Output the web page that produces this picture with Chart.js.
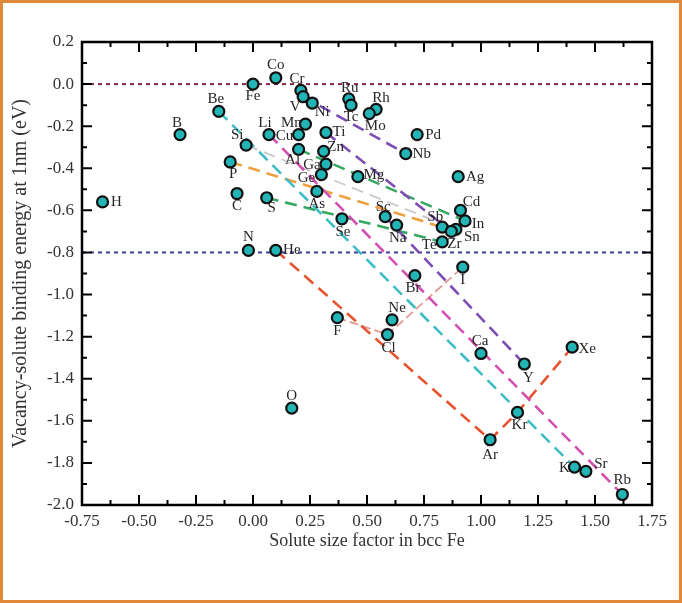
<!DOCTYPE html>
<html>
<head>
<meta charset="utf-8">
<script src="https://cdn.jsdelivr.net/npm/chart.js@4.4.0/dist/chart.umd.min.js"></script>
<style>
  html, body { margin: 0; padding: 0; background: #fff; }
  #wrap { position: relative; width: 682px; height: 603px; }
  #frame { position: absolute; left: 0; top: 0; width: 676px; height: 597px; border: 3px solid #e0893a; pointer-events: none; }
</style>
</head>
<body>
<div id="wrap">
  <canvas id="myChart" width="682" height="603"></canvas>
  <div id="frame"></div>
</div>
<script>
/* globals Chart:false */
(() => {
  'use strict'

  // solutes, size factor (x) and binding energy at 1nm (y)
  const elements = ['H', 'B', 'Be', 'Fe', 'Co', 'Si', 'P', 'C', 'S', 'N', 'He', 'Li', 'Mn', 'Cu', 'Al',
    'Cr', 'V', 'Ni', 'Ru', 'Tc', 'Rh', 'Mo', 'Pd', 'Nb', 'Ti', 'Zn', 'Ga', 'Ge', 'As', 'Mg', 'Ag',
    'Cd', 'In', 'Sb', 'Sn', 'Zr', 'Te', 'Se', 'Sc', 'Na', 'I', 'Br', 'Ne', 'F', 'Cl', 'Ca', 'O',
    'Xe', 'Y', 'Kr', 'Ar', 'K', 'Sr', 'Rb']
  const sizeFactor = [-0.66, -0.32, -0.15, 0.00, 0.10, -0.03, -0.10, -0.07, 0.06, -0.02, 0.10, 0.07, 0.23, 0.20, 0.20,
    0.21, 0.22, 0.26, 0.42, 0.43, 0.54, 0.51, 0.72, 0.67, 0.32, 0.31, 0.32, 0.30, 0.28, 0.46, 0.90,
    0.91, 0.93, 0.83, 0.89, 0.87, 0.83, 0.39, 0.58, 0.63, 0.92, 0.71, 0.61, 0.37, 0.59, 1.00, 0.17,
    1.40, 1.19, 1.16, 1.04, 1.41, 1.46, 1.62]
  const bindingEnergy = [-0.56, -0.24, -0.13, 0.00, 0.03, -0.29, -0.37, -0.52, -0.54, -0.79, -0.79, -0.24, -0.19, -0.24, -0.31,
    -0.03, -0.06, -0.09, -0.07, -0.10, -0.12, -0.14, -0.24, -0.33, -0.23, -0.32, -0.38, -0.43, -0.51, -0.44, -0.44,
    -0.60, -0.65, -0.68, -0.69, -0.70, -0.75, -0.64, -0.63, -0.67, -0.87, -0.91, -1.12, -1.11, -1.19, -1.28, -1.54,
    -1.25, -1.33, -1.56, -1.69, -1.82, -1.84, -1.95]

  // dashed trend lines, by element
  const trendLines = [
    ['Be', 'K'], ['Li', 'Rb'], ['Sc', 'Y'], ['Ti', 'Zr'], ['V', 'Nb'], ['P', 'Sb'],
    ['Si', 'Sn'], ['Al', 'In'], ['S', 'Te'], ['He', 'Ar', 'Kr', 'Xe'], ['F', 'Cl', 'I']
  ]
  const refLevels = [0.0, -0.8]
  const xRange = [-0.75, 1.75]
  const yRange = [-2.0, 0.2]

  // styles
  const lineColors = ['#3fbcc6', '#d34fb0', '#7d4cb4', '#7d4cb4', '#7d4cb4', '#f0a040',
    '#c9c9c9', '#35a862', '#35a862', '#e5532f', '#e39a94']
  const refColors = ['#8a2447', '#3f3f9e']
  const labelOffset = {
    H: [14, 0], B: [-3, -12], Be: [-3, -12], Fe: [0, 12], Co: [0, -13], Si: [-9, -10], P: [3, 12],
    C: [0, 13], S: [5, 10], N: [0, -13], He: [16, 0], Li: [-4, -12], Mn: [-14, -1], Cu: [-14, 1],
    Al: [-6, 11], Cr: [-4, -11], V: [-8, 10], Ni: [10, 9], Ru: [1, -11], Tc: [0, 12], Rh: [5, -11],
    Mo: [6, 13], Pd: [16, 0], Nb: [16, 1], Ti: [13, 0], Zn: [12, -4], Ga: [-14, 1], Ge: [-15, 3],
    As: [0, 13], Mg: [16, -2], Ag: [17, 0], Cd: [11, -8], In: [13, 3], Sb: [-7, -10], Sn: [16, 8],
    Zr: [3, 13], Te: [-13, 3], Se: [1, 13], Sc: [-2, -10], Na: [1, 13], I: [0, 13], Br: [-2, 12],
    Ne: [5, -12], F: [0, 13], Cl: [1, 14], Ca: [-1, -12], O: [0, -12], Xe: [15, 2], Y: [4, 14],
    Kr: [2, 13], Ar: [0, 15], K: [-10, 1], Sr: [15, -7], Rb: [0, -14]
  }
  const serif = '"Liberation Serif", "DejaVu Serif", serif'

  const pt = name => {
    const i = elements.indexOf(name)
    return { x: sizeFactor[i], y: bindingEnergy[i] }
  }

  const datasets = []
  refLevels.forEach((lv, i) => {
    datasets.push({
      type: 'line',
      data: [{ x: xRange[0], y: lv }, { x: xRange[1], y: lv }],
      borderColor: refColors[i],
      borderWidth: 2,
      borderDash: [4, 4],
      pointRadius: 0,
      order: 3
    })
  })
  trendLines.forEach((names, i) => {
    const thin = names[0] === 'F' || names[0] === 'Si'
    datasets.push({
      type: 'line',
      data: names.map(pt),
      borderColor: lineColors[i],
      borderWidth: thin ? 1.8 : 2.6,
      borderDash: names[0] === 'F' ? [9, 4] : [12, 7],
      pointRadius: 0,
      order: 2
    })
  })
  datasets.push({
    type: 'scatter',
    data: elements.map((e, i) => ({ x: sizeFactor[i], y: bindingEnergy[i] })),
    backgroundColor: '#23b4b6',
    borderColor: '#111',
    borderWidth: 2.2,
    pointRadius: 5.5,
    order: 0
  })

  const frame = {
    id: 'frame',
    afterDatasetsDraw (chart) {
      const { ctx, chartArea: a, scales: { x, y } } = chart
      ctx.save()
      ctx.strokeStyle = '#000'
      ctx.lineWidth = 2.5
      ctx.strokeRect(a.left, a.top, a.right - a.left, a.bottom - a.top)
      ctx.lineWidth = 2
      ctx.beginPath()
      for (let k = 0; k <= 20; k++) {
        const v = xRange[0] + k * 0.125
        const len = k % 2 === 0 ? 10 : 5
        const px = x.getPixelForValue(v)
        ctx.moveTo(px, a.bottom); ctx.lineTo(px, a.bottom - len)
        ctx.moveTo(px, a.top); ctx.lineTo(px, a.top + len)
      }
      for (let k = 0; k <= 22; k++) {
        const v = yRange[0] + k * 0.1
        const len = k % 2 === 0 ? 10 : 5
        const py = y.getPixelForValue(v)
        ctx.moveTo(a.left, py); ctx.lineTo(a.left + len, py)
        ctx.moveTo(a.right, py); ctx.lineTo(a.right - len, py)
      }
      ctx.stroke()

      // element labels
      const meta = chart.getDatasetMeta(chart.data.datasets.length - 1)
      ctx.font = '15px ' + serif
      ctx.fillStyle = '#262626'
      ctx.textAlign = 'center'
      ctx.textBaseline = 'middle'
      meta.data.forEach((p, i) => {
        const off = labelOffset[elements[i]] || [0, -12]
        ctx.fillText(elements[i], p.x + off[0], p.y + off[1])
      })
      ctx.restore()
    }
  }

  const ctx = document.getElementById('myChart')
  // eslint-disable-next-line no-unused-vars
  const myChart = new Chart(ctx, {
    data: { datasets },
    plugins: [frame],
    options: {
      responsive: false,
      animation: false,
      events: [],
      layout: { padding: { top: 42, right: 30, bottom: 38, left: 0 } },
      plugins: { legend: { display: false }, tooltip: { enabled: false } },
      scales: {
        x: {
          type: 'linear',
          min: xRange[0],
          max: xRange[1],
          grid: { display: false, drawTicks: false },
          border: { display: false },
          afterFit: s => { s.height = 60 },
          ticks: {
            stepSize: 0.25,
            padding: 6,
            color: '#333',
            font: { family: serif, size: 17 },
            callback: v => v.toFixed(2)
          },
          title: {
            display: true,
            text: 'Solute size factor in bcc Fe',
            color: '#333',
            font: { family: serif, size: 18 },
            padding: { top: 0, bottom: 13 }
          }
        },
        y: {
          type: 'linear',
          min: yRange[0],
          max: yRange[1],
          grid: { display: false, drawTicks: false },
          border: { display: false },
          afterFit: s => { s.width = 82 },
          ticks: {
            stepSize: 0.2,
            padding: 8,
            color: '#333',
            font: { family: serif, size: 17 },
            callback: v => v.toFixed(1)
          },
          title: {
            display: true,
            text: 'Vacancy-solute binding energy at 1nm (eV)',
            color: '#333',
            font: { family: serif, size: 20 },
            padding: { top: 9, bottom: 0 }
          }
        }
      }
    }
  })
})()
</script>
</body>
</html>
